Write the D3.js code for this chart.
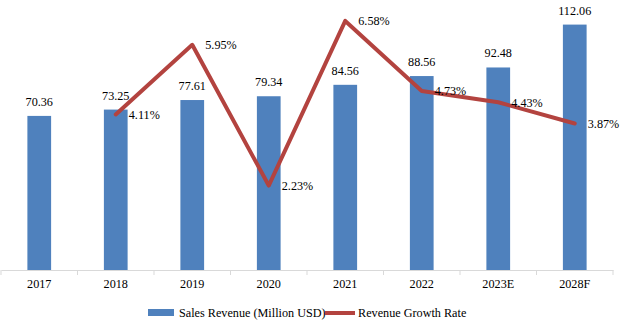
<!DOCTYPE html>
<html><head><meta charset="utf-8">
<script src="https://cdn.jsdelivr.net/npm/d3@7"></script>
<style>body{margin:0;background:#fff}svg{display:block}text{font-family:"Liberation Serif","Times New Roman",serif;fill:#000}</style>
</head><body><svg id="c" width="620" height="327"></svg>
<script>
const categories = ["2017","2018","2019","2020","2021","2022","2023E","2028F"];
const revenue = [70.36,73.25,77.61,79.34,84.56,88.56,92.48,112.06];
const growthYears = ["2018","2019","2020","2021","2022","2023E","2028F"];
const growth = [4.11,5.95,2.23,6.58,4.73,4.43,3.87];
const seriesNames = ["Sales Revenue (Million USD)","Revenue Growth Rate"];

const svg = d3.select("#c");
const barColor = "#4F81BD", lineColor = "#B3433F";
const fs = 12.2;
const x = d3.scaleBand().domain(categories).range([1,613]).paddingInner(0.69).paddingOuter(0.345);
const y = d3.scaleLinear().domain([0,120]).range([270,7.2]);
const y2 = d3.scaleLinear().domain([0,7]).range([270,5]);
const cx = d => x(d) + x.bandwidth()/2;

svg.selectAll("rect.bar").data(categories).enter().append("rect").attr("class","bar")
  .attr("x", d=>x(d)).attr("width", x.bandwidth())
  .attr("y", (d,i)=>y(revenue[i])).attr("height", (d,i)=>y(0)-y(revenue[i]))
  .attr("fill", barColor);

svg.selectAll("text.vl").data(categories).enter().append("text").attr("class","vl")
  .attr("x", d=>cx(d)).attr("y",(d,i)=>y(revenue[i])-10).attr("text-anchor","middle")
  .attr("font-size",fs).text((d,i)=>revenue[i].toFixed(2));

// axis
const axis = d3.axisBottom(x).tickSizeOuter(0).tickSize(0);
const ag = svg.append("g").attr("transform","translate(0,270)").call(axis);
ag.attr("font-family",null).attr("font-size",null);
ag.select(".domain").attr("stroke","#d9d9d9");
ag.selectAll("text").attr("font-size",fs).attr("y",0).attr("dy","1.45em");
const bounds = categories.map(d=>x(d)-x.step()*x.paddingInner()/2).concat([613]);
svg.selectAll("line.tk").data(bounds).enter().append("line").attr("class","tk")
  .attr("x1",d=>d).attr("x2",d=>d).attr("y1",270).attr("y2",275).attr("stroke","#d9d9d9");

// line
const line = d3.line().x(d=>cx(d[0])).y(d=>y2(d[1]));
const pts = growthYears.map((d,i)=>[d,growth[i]]);
svg.append("path").datum(pts).attr("d",line).attr("fill","none")
  .attr("stroke",lineColor).attr("stroke-width",4).attr("stroke-linejoin","round").attr("stroke-linecap","round");
svg.selectAll("text.gl").data(pts).enter().append("text").attr("class","gl")
  .attr("x",d=>cx(d[0])+13).attr("y",d=>y2(d[1])).attr("dy","0.35em")
  .attr("font-size",fs).text(d=>d[1].toFixed(2)+"%");

// legend
const lg = svg.append("g");
lg.append("rect").attr("x",148).attr("y",309).attr("width",26).attr("height",7).attr("fill",barColor);
lg.append("text").attr("x",179).attr("y",317).attr("font-size",fs).text(seriesNames[0]);
lg.append("line").attr("x1",325).attr("x2",355).attr("y1",313).attr("y2",313).attr("stroke",lineColor).attr("stroke-width",4);
lg.append("text").attr("x",358).attr("y",317).attr("font-size",fs).text(seriesNames[1]);
</script></body></html>
